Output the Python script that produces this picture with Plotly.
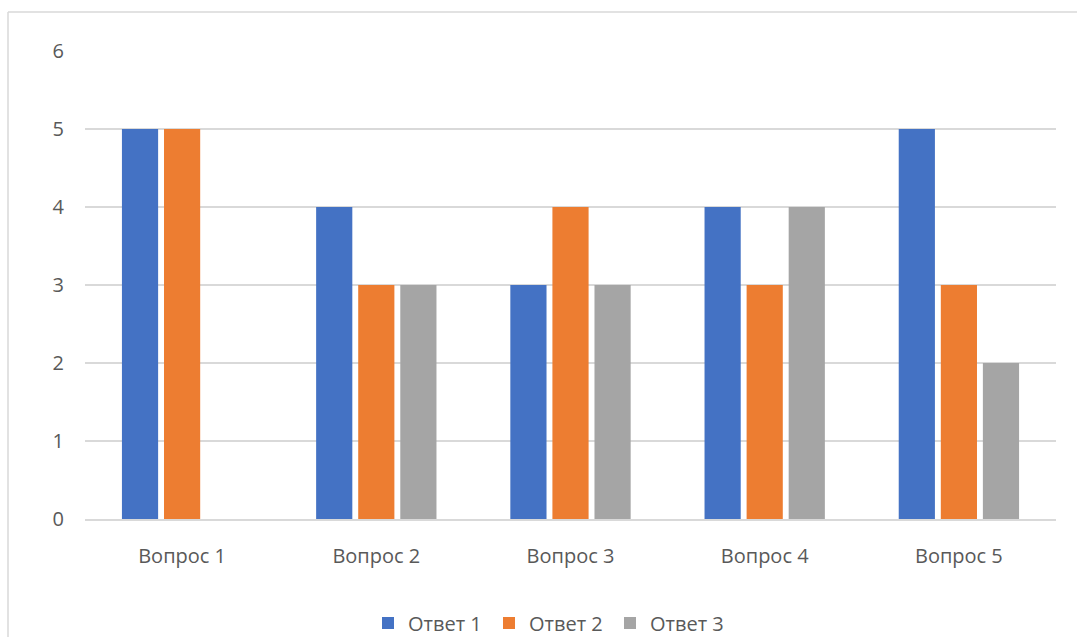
import plotly.graph_objects as go

# Survey answers per question
questions = ["Вопрос 1", "Вопрос 2", "Вопрос 3", "Вопрос 4", "Вопрос 5"]
answer_1 = [5, 4, 3, 4, 5]
answer_2 = [5, 3, 4, 3, 3]
answer_3 = [0, 3, 3, 4, 2]
series_names = ["Ответ 1", "Ответ 2", "Ответ 3"]
y_ticks = [0, 1, 2, 3, 4, 5, 6]

colors = ["#4472C4", "#ED7D31", "#A5A5A5"]
text_color = "#595959"
grid_color = "#D9D9D9"
font_family = "Open Sans, Liberation Sans, sans-serif"

W, H = 1077, 637
m_l, m_r, m_t, m_b = 85, 21, 51, 118
plot_w = W - m_l - m_r
plot_h = H - m_t - m_b

fig = go.Figure()
for name, vals, col in zip(series_names, [answer_1, answer_2, answer_3], colors):
    fig.add_trace(go.Bar(name=name, x=questions, y=vals, marker_color=col,
                         marker_line_width=0))


def px_to_paper_x(px):
    return (px - m_l) / plot_w


def px_to_paper_y(py):
    return (H - m_b - py) / plot_h


# Chart-area frame (left and top edges)
fig.add_shape(type="line", xref="paper", yref="paper",
              x0=px_to_paper_x(8), x1=px_to_paper_x(8),
              y0=px_to_paper_y(H + 5), y1=px_to_paper_y(12),
              line=dict(color=grid_color, width=1.5))
fig.add_shape(type="line", xref="paper", yref="paper",
              x0=px_to_paper_x(8), x1=px_to_paper_x(W + 5),
              y0=px_to_paper_y(12), y1=px_to_paper_y(12),
              line=dict(color=grid_color, width=1.5))

fig.update_layout(
    width=W, height=H,
    margin=dict(l=m_l, r=m_r, t=m_t, b=m_b, autoexpand=False),
    paper_bgcolor="white", plot_bgcolor="white",
    barmode="group", bargap=0.35, bargroupgap=0.14,
    font=dict(family=font_family, size=20, color=text_color),
    showlegend=True,
    legend=dict(orientation="h", xref="container", yref="container",
                x=368 / W, xanchor="left",
                y=(H - 623) / H, yanchor="middle",
                font=dict(size=20, color=text_color),
                itemwidth=30, entrywidth=76, traceorder="normal"),
    xaxis=dict(showgrid=False, showline=True, linecolor=grid_color, linewidth=1.5,
               ticks="", tickfont=dict(size=20, color=text_color), ticklabelstandoff=18),
    yaxis=dict(range=[0, 6], tickvals=y_ticks, showgrid=True, gridcolor=grid_color,
               gridwidth=1.5, zeroline=False, showline=False, ticks="",
               tickfont=dict(size=20, color=text_color), ticklabelstandoff=20),
)

fig.write_html("out.html")
